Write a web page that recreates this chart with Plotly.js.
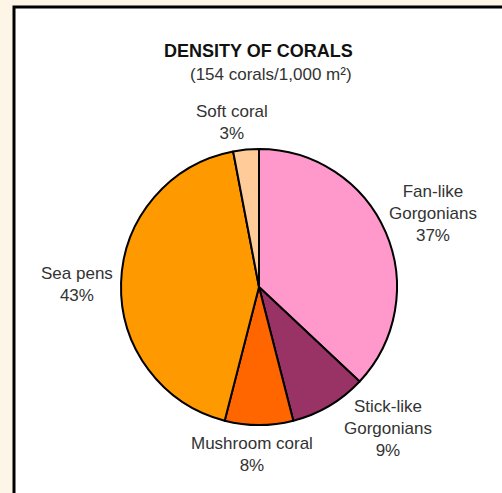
<!DOCTYPE html>
<html>
<head>
<meta charset="utf-8">
<script src="https://cdn.plot.ly/plotly-3.0.1.min.js"></script>
<style>
  html, body { margin: 0; padding: 0; background: #FDF5E6; }
  #chart { width: 502px; height: 493px; }
</style>
</head>
<body>
<div id="chart"></div>
<script>
// ---- data ----
const categories = ["Fan-like Gorgonians", "Stick-like Gorgonians", "Mushroom coral", "Sea pens", "Soft coral"];
const labelLines = ["Fan-like<br>Gorgonians", "Stick-like<br>Gorgonians", "Mushroom coral", "Sea pens", "Soft coral"];
const values = [37, 9, 8, 43, 3];
const titleText = "DENSITY OF CORALS";
const subtitleText = "(154 corals/1,000 m²)";

// ---- styles / layout ----
const colors = ["#FF99CC", "#993366", "#FF6600", "#FF9900", "#FFCC99"];
const W = 502, H = 493;
// label anchor positions in pixels (layout only)
const labelPos = [[433, 214], [388, 428], [252, 454], [77, 284], [232, 123]];
const px = x => x / W;
const py = y => 1 - y / H;

const cx = 259, cy = 287, r = 138;

const trace = {
  type: "pie",
  labels: categories,
  values: values,
  sort: false,
  direction: "clockwise",
  rotation: 0,
  textinfo: "none",
  hoverinfo: "label+percent",
  showlegend: false,
  marker: { colors: colors, line: { color: "#000000", width: 2 } },
  domain: { x: [px(cx - r), px(cx + r)], y: [py(cy + r), py(cy - r)] }
};

const font = "Liberation Sans, Arial, sans-serif";
const annotations = categories.map((c, i) => ({
  xref: "paper", yref: "paper",
  x: px(labelPos[i][0]), y: py(labelPos[i][1]),
  xanchor: "center", yanchor: "middle", align: "center",
  showarrow: false,
  text: labelLines[i] + "<br>" + values[i] + "%",
  font: { family: font, size: 17, color: "#333333" }
}));
annotations.push({
  xref: "paper", yref: "paper", x: px(258), y: py(51),
  xanchor: "center", yanchor: "middle", showarrow: false,
  text: "<b>" + titleText + "</b>",
  font: { family: font, size: 18, color: "#111111" }
});
annotations.push({
  xref: "paper", yref: "paper", x: px(271), y: py(74),
  xanchor: "center", yanchor: "middle", showarrow: false,
  text: subtitleText,
  font: { family: font, size: 17, color: "#333333" }
});

const layout = {
  width: W, height: H,
  margin: { l: 0, r: 0, t: 0, b: 0, pad: 0 },
  paper_bgcolor: "#FDF5E6",
  plot_bgcolor: "#FDF5E6",
  showlegend: false,
  shapes: [{
    type: "rect", xref: "paper", yref: "paper", layer: "below",
    x0: px(14), y0: py(7), x1: px(W + 20), y1: py(H + 20),
    fillcolor: "#FFFFFF", line: { color: "#000000", width: 3 }
  }],
  annotations: annotations
};

Plotly.newPlot("chart", [trace], layout, { displayModeBar: false, staticPlot: true });
</script>
</body>
</html>
